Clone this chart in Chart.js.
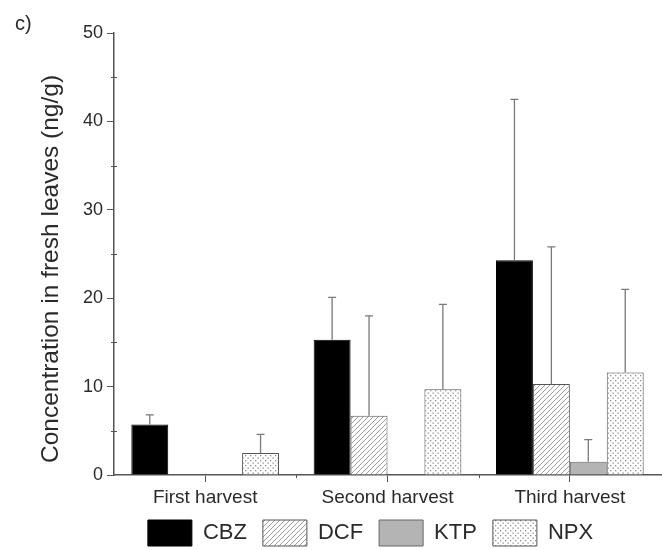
<!DOCTYPE html>
<html>
<head>
<meta charset="utf-8">
<script src="https://cdn.jsdelivr.net/npm/chart.js@4/dist/chart.umd.min.js"></script>
<style>
  html, body { margin: 0; padding: 0; background: #fff; }
  #wrap { width: 662px; height: 550px; position: relative; }
</style>
</head>
<body>
<div id="wrap"><canvas id="chart" width="662" height="550"></canvas></div>
<script>
// data (ng/g), error = upper bar length
const harvests = ['First harvest', 'Second harvest', 'Third harvest'];
const cbzMean = [5.7, 15.3, 24.3];
const cbzErr  = [1.1, 4.8, 18.2];
const dcfMean = [0, 6.7, 10.3];
const dcfErr  = [0, 11.3, 15.5];
const ktpMean = [0, 0, 1.5];
const ktpErr  = [0, 0, 2.5];
const npxMean = [2.5, 9.7, 11.6];
const npxErr  = [2.1, 9.6, 9.4];
const yTicks  = [0, 10, 20, 30, 40, 50];
const yTitle  = 'Concentration in fresh leaves (ng/g)';

const FONT = '"Liberation Sans", Arial, sans-serif';
const TEXT = '#2a2a2a';
const AXIS = '#555';
const LEG_PAD = 16;

// fill patterns
function hatch() {
  const c = document.createElement('canvas');
  c.width = 5; c.height = 5;
  const g = c.getContext('2d');
  g.fillStyle = '#fff'; g.fillRect(0, 0, 5, 5);
  g.strokeStyle = '#9c9c9c'; g.lineWidth = 1;
  g.beginPath();
  g.moveTo(0, 5); g.lineTo(5, 0);
  g.moveTo(-1, 1); g.lineTo(1, -1);
  g.moveTo(4, 6); g.lineTo(6, 4);
  g.stroke();
  return g.createPattern(c, 'repeat');
}
function dots() {
  const c = document.createElement('canvas');
  c.width = 5; c.height = 5;
  const g = c.getContext('2d');
  g.fillStyle = '#fff'; g.fillRect(0, 0, 5, 5);
  g.fillStyle = '#8c8c8c';
  g.fillRect(0, 0, 1.3, 1.3);
  g.fillRect(2.5, 2.5, 1.3, 1.3);
  return g.createPattern(c, 'repeat');
}

// legend placement, upper error bars, minor ticks, axis title, panel letter
const extras = {
  id: 'extras',
  afterLayout(chart) {
    const l = chart.legend;
    l.left += 40; l.right += 40;
    l.top = 520 - LEG_PAD;
    l.bottom = chart.height;
  },
  afterDatasetsDraw(chart) {
    const ctx = chart.ctx, y = chart.scales.y;
    ctx.save();
    ctx.strokeStyle = '#7a7a7a';
    ctx.lineWidth = 1.3;
    chart.data.datasets.forEach((ds, di) => {
      const meta = chart.getDatasetMeta(di);
      meta.data.forEach((bar, i) => {
        const v = ds.data[i], e = ds.err[i];
        if (!v) return;
        const y0 = y.getPixelForValue(v), y1 = y.getPixelForValue(v + e);
        ctx.beginPath();
        ctx.moveTo(bar.x, y0); ctx.lineTo(bar.x, y1);
        ctx.moveTo(bar.x - 4, y1); ctx.lineTo(bar.x + 4, y1);
        ctx.stroke();
      });
    });
    ctx.restore();
  },
  afterDraw(chart) {
    const ctx = chart.ctx, x = chart.scales.x, y = chart.scales.y;
    ctx.save();
    ctx.strokeStyle = AXIS; ctx.lineWidth = 1;
    for (let v = 5; v < 50; v += 10) {
      const py = Math.round(y.getPixelForValue(v)) + 0.5;
      ctx.beginPath(); ctx.moveTo(x.left - 3, py); ctx.lineTo(x.left + 3, py); ctx.stroke();
    }
    for (let i = 0; i < harvests.length - 1; i++) {
      const px = Math.round((x.getPixelForValue(i) + x.getPixelForValue(i + 1)) / 2) + 0.5;
      ctx.beginPath(); ctx.moveTo(px, y.bottom); ctx.lineTo(px, y.bottom + 3); ctx.stroke();
    }
    ctx.fillStyle = TEXT;
    ctx.textBaseline = 'middle';
    ctx.font = '20px ' + FONT;
    ctx.textAlign = 'left';
    ctx.fillText('c)', 15, 24);
    // rotated axis title, centred a bit below the axis middle as in the figure
    ctx.translate(51, 269);
    ctx.rotate(-Math.PI / 2);
    ctx.textAlign = 'center';
    ctx.font = '24.5px ' + FONT;
    ctx.fillText(yTitle, 0, 0);
    ctx.restore();
  }
};

new Chart(document.getElementById('chart'), {
  type: 'bar',
  data: {
    labels: harvests,
    datasets: [
      { label: 'CBZ', data: cbzMean, err: cbzErr, backgroundColor: '#000', borderColor: '#000', borderWidth: 1 },
      { label: 'DCF', data: dcfMean, err: dcfErr, backgroundColor: hatch(), borderColor: '#555', borderWidth: 1 },
      { label: 'KTP', data: ktpMean, err: ktpErr, backgroundColor: '#b4b4b4', borderColor: '#666', borderWidth: 1 },
      { label: 'NPX', data: npxMean, err: npxErr, backgroundColor: dots(), borderColor: '#555', borderWidth: 1 }
    ]
  },
  options: {
    responsive: false,
    animation: false,
    devicePixelRatio: 1,
    layout: { padding: { left: 0, right: 1, top: 33, bottom: 0 } },
    categoryPercentage: 0.81,
    barPercentage: 1,
    plugins: {
      legend: {
        position: 'bottom',
        maxHeight: 35,
        labels: {
          boxWidth: 44, boxHeight: 26, padding: LEG_PAD,
          color: TEXT, font: { family: FONT, size: 22 }
        }
      },
      tooltip: { enabled: false }
    },
    scales: {
      x: {
        afterFit: s => { s.height = 40; },
        grid: { display: true, drawOnChartArea: false, offset: false, tickLength: 7, color: AXIS },
        border: { display: true, color: AXIS, width: 1.5 },
        ticks: { color: TEXT, font: { family: FONT, size: 19 }, padding: 4, maxRotation: 0 }
      },
      y: {
        min: 0, max: 50,
        afterFit: s => { s.width = 114; },
        afterBuildTicks: s => { s.ticks = yTicks.map(v => ({ value: v })); },
        grid: { drawOnChartArea: false, tickLength: 7, color: AXIS },
        border: { display: true, color: AXIS, width: 1.5 },
        ticks: { color: TEXT, font: { family: FONT, size: 18 }, padding: 4 }
      }
    }
  },
  plugins: [extras]
});
</script>
</body>
</html>
